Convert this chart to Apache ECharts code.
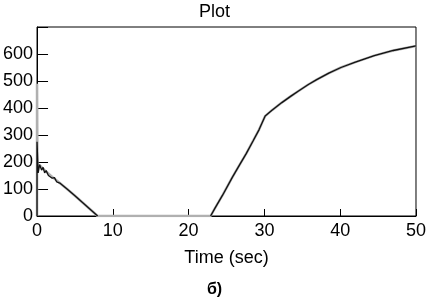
<!DOCTYPE html>
<html>
<head>
<meta charset="utf-8">
<script src="https://cdn.jsdelivr.net/npm/echarts@6/dist/echarts.min.js"></script>
<style>html,body{margin:0;padding:0;background:#fff}#c{width:429px;height:298px}</style>
</head>
<body>
<div id="c"></div>
<script>
var titleText = 'Plot';
var xName = 'Time (sec)';
var caption = 'б)';
var xTicks = [0, 10, 20, 30, 40, 50];
var yTicks = [0, 100, 200, 300, 400, 500, 600];

// measured response (black)
var respTime = [0, 0, 0.15, 0.35, 0.6, 0.8, 1.0, 1.2, 1.5, 1.7, 2.0, 2.3, 2.6, 3, 4, 5, 6, 7, 8, 15, 22.9, 23.5, 24.5, 25.8, 26.8, 27.6, 28.5, 29.3, 30.1, 31, 32.3, 33.5, 34.5, 35.8, 36.9, 38.5, 40.1, 42, 44.5, 47, 50];
var respVal  = [0, 275, 160, 190, 170, 180, 160, 168, 150, 154, 140, 142, 126, 122, 99, 75, 50, 25, 0, '-', 0, 30, 78, 145, 193, 231, 278, 320, 370, 392, 420, 444, 463, 487, 505, 529, 550, 570, 594, 613, 630];

// reference trajectory (grey)
var refTime = [0, 0, 0.05, 0.4, 1, 2, 3, 4, 5, 6, 7, 8, 22.9, 23.5, 24.5, 25.8, 26.8, 27.6, 28.5, 29.3, 30.1, 31, 32.3, 33.5, 34.5, 35.8, 36.9, 38.5, 40.1, 42, 44.5, 47, 50];
var refVal  = [0, 490, 190, 186, 170, 145, 122, 99, 75, 50, 25, 0, 0, 30, 78, 145, 193, 231, 278, 320, 370, 392, 420, 444, 463, 487, 505, 529, 550, 570, 594, 613, 630];

function pairs(xs, ys){ return xs.map(function(x,i){ return [x, ys[i]]; }); }

var chart = echarts.init(document.getElementById('c'), null, {renderer:'canvas'});
var font = 'Liberation Sans, Arial, sans-serif';
chart.setOption({
  animation: false,
  backgroundColor: '#fff',
  title: {text: titleText, left: 'center', top: -2, textStyle: {fontFamily: font, fontSize: 18, fontWeight: 'normal', color: '#000'}},
  grid: {left: 35, right: 10, top: 27, bottom: 82, show: true, borderColor: '#000', borderWidth: 1, backgroundColor: 'transparent'},
  xAxis: {
    type: 'value', min: 0, max: 50, interval: 10,
    name: xName, nameLocation: 'middle', nameGap: 33,
    nameTextStyle: {fontFamily: font, fontSize: 18, color: '#000'},
    axisLine: {show: true, lineStyle: {color: '#000', width: 1}},
    axisTick: {show: true, inside: true, length: 7, lineStyle: {color: '#000'}},
    axisLabel: {fontFamily: font, fontSize: 18, color: '#000', margin: 6,
      formatter: function(v){ return xTicks.indexOf(v) >= 0 ? String(v) : ''; }},
    splitLine: {show: false}
  },
  yAxis: {
    type: 'value', min: 0, max: 700, interval: 100,
    axisLine: {show: true, lineStyle: {color: '#000', width: 1}},
    axisTick: {show: true, inside: true, length: 11, lineStyle: {color: '#000'}},
    axisLabel: {fontFamily: font, fontSize: 18, color: '#000', margin: 4,
      formatter: function(v){ return yTicks.indexOf(v) >= 0 ? String(v) : ''; }},
    splitLine: {show: false}
  },
  graphic: [{type: 'text', left: 'center', top: 282, style: {text: caption, font: 'bold 16px ' + font, fill: '#000'}}],
  series: [
    {type: 'line', data: pairs(refTime, refVal), showSymbol: false, symbol: 'none', z: 5,
     lineStyle: {color: '#b0b0b0', width: 2.5}},
    {type: 'line', data: pairs(respTime, respVal), showSymbol: false, symbol: 'none', z: 6, connectNulls: false,
     lineStyle: {color: '#111', width: 1.3}}
  ]
});
</script>
</body>
</html>
